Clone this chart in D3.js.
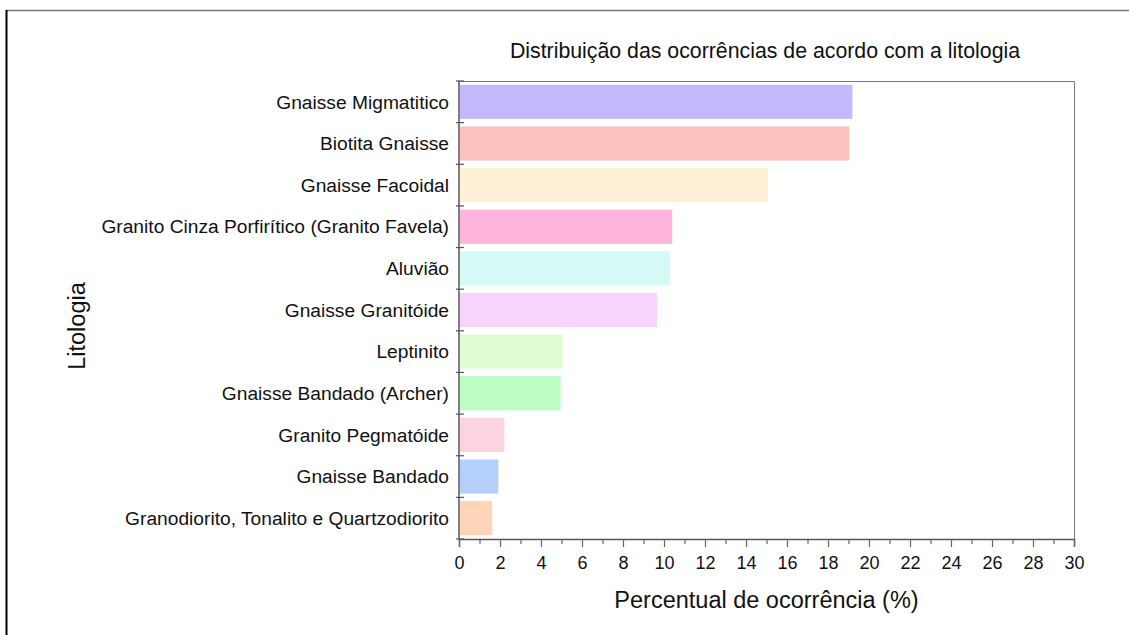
<!DOCTYPE html>
<html>
<head>
<meta charset="utf-8">
<script src="https://cdn.jsdelivr.net/npm/d3@7"></script>
<style>
  body { margin: 0; background: #fff; }
  text { font-family: "Liberation Sans", Arial, sans-serif; fill: #111; }
</style>
</head>
<body>
<svg id="chart" width="1129" height="635"></svg>
<script>
// data
var categories = [
  "Gnaisse Migmatitico",
  "Biotita Gnaisse",
  "Gnaisse Facoidal",
  "Granito Cinza Porfirítico (Granito Favela)",
  "Aluvião",
  "Gnaisse Granitóide",
  "Leptinito",
  "Gnaisse Bandado (Archer)",
  "Granito Pegmatóide",
  "Gnaisse Bandado",
  "Granodiorito, Tonalito e Quartzodiorito"
];
var values = [19.19, 19.04, 15.07, 10.4, 10.29, 9.66, 5.06, 4.96, 2.21, 1.92, 1.62];
var colors = ["#c4b8fc", "#fcc2be", "#fdf0d6", "#fdb5dc", "#d4fbf6", "#f6d4fc",
              "#e0fcd4", "#bcfdc6", "#fbd4df", "#b5cffc", "#fdd5b8"];
var majorTicks = [0, 2, 4, 6, 8, 10, 12, 14, 16, 18, 20, 22, 24, 26, 28, 30];
var minorTicks = [1, 3, 5, 7, 9, 11, 13, 15, 17, 19, 21, 23, 25, 27, 29];

var plotLeft = 459, plotRight = 1074, plotTop = 81, plotBottom = 539;

var svg = d3.select("#chart");

// outer frame (only top and left edges show)
svg.append("line").attr("x1", 6).attr("x2", 1129).attr("y1", 10.5).attr("y2", 10.5)
  .attr("stroke", "#7a7a7a").attr("stroke-width", 1.5);
svg.append("line").attr("x1", 6.5).attr("x2", 6.5).attr("y1", 10).attr("y2", 635)
  .attr("stroke", "#000").attr("stroke-width", 2);

var x = d3.scaleLinear().domain([0, 30]).range([plotLeft, plotRight]);
var y = d3.scaleBand().domain(categories).range([plotTop, plotBottom]).paddingInner(0.18).paddingOuter(0.09);

// bars
svg.append("g").selectAll("rect")
  .data(categories)
  .enter()
  .append("rect")
  .attr("x", x(0) + 1)
  .attr("y", function(d) { return y(d); })
  .attr("width", function(d, i) { return x(values[i]) - x(0) - 1; })
  .attr("height", y.bandwidth())
  .attr("fill", function(d, i) { return colors[i]; });

// plot box top/right
svg.append("path")
  .attr("d", "M" + plotLeft + "," + (plotTop + 0.5) + "H" + (plotRight + 0.5) + "V" + plotBottom)
  .attr("fill", "none").attr("stroke", "#777").attr("stroke-width", 1);

// x axis
var xAxis = svg.append("g").attr("transform", "translate(0," + plotBottom + ")")
  .call(d3.axisBottom(x).tickValues(majorTicks).tickSize(8).tickPadding(9).tickFormat(d3.format("d")));
xAxis.select(".domain").attr("stroke", "#555").attr("stroke-width", 1.5);
xAxis.selectAll(".tick line").attr("stroke", "#666").attr("stroke-width", 1.2);
xAxis.selectAll(".tick text").style("font-size", "18px").attr("fill", "#111");

var xMinor = svg.append("g").attr("transform", "translate(0," + plotBottom + ")")
  .call(d3.axisBottom(x).tickValues(minorTicks).tickSize(5).tickFormat(""));
xMinor.select(".domain").remove();
xMinor.selectAll(".tick line").attr("stroke", "#666").attr("stroke-width", 1.2);

// y axis line and ticks at band edges
var edges = d3.range(categories.length + 1).map(function(i) {
  return plotTop + i * (plotBottom - plotTop) / categories.length;
});
svg.append("line").attr("x1", plotLeft).attr("x2", plotLeft).attr("y1", plotTop).attr("y2", plotBottom)
  .attr("stroke", "#555").attr("stroke-width", 1.5);
svg.append("g").selectAll("line")
  .data(edges)
  .enter()
  .append("line")
  .attr("x1", plotLeft - 3).attr("x2", plotLeft + 5)
  .attr("y1", function(d) { return d; }).attr("y2", function(d) { return d; })
  .attr("stroke", "#555").attr("stroke-width", 1.2);

// category labels
svg.append("g").selectAll("text")
  .data(categories)
  .enter()
  .append("text")
  .attr("x", plotLeft - 10)
  .attr("y", function(d) { return y(d) + y.bandwidth() / 2; })
  .attr("dy", "0.35em")
  .attr("text-anchor", "end")
  .style("font-size", "19.2px")
  .text(function(d) { return d; });

// titles
svg.append("text").attr("x", 765).attr("y", 58).attr("text-anchor", "middle")
  .style("font-size", "21.3px").text("Distribuição das ocorrências de acordo com a litologia");
svg.append("text").attr("x", (plotLeft + plotRight) / 2).attr("y", 608).attr("text-anchor", "middle")
  .style("font-size", "23.5px").text("Percentual de ocorrência (%)");
svg.append("text").attr("transform", "translate(85,326) rotate(-90)").attr("text-anchor", "middle")
  .style("font-size", "23.5px").text("Litologia");
</script>
</body>
</html>
